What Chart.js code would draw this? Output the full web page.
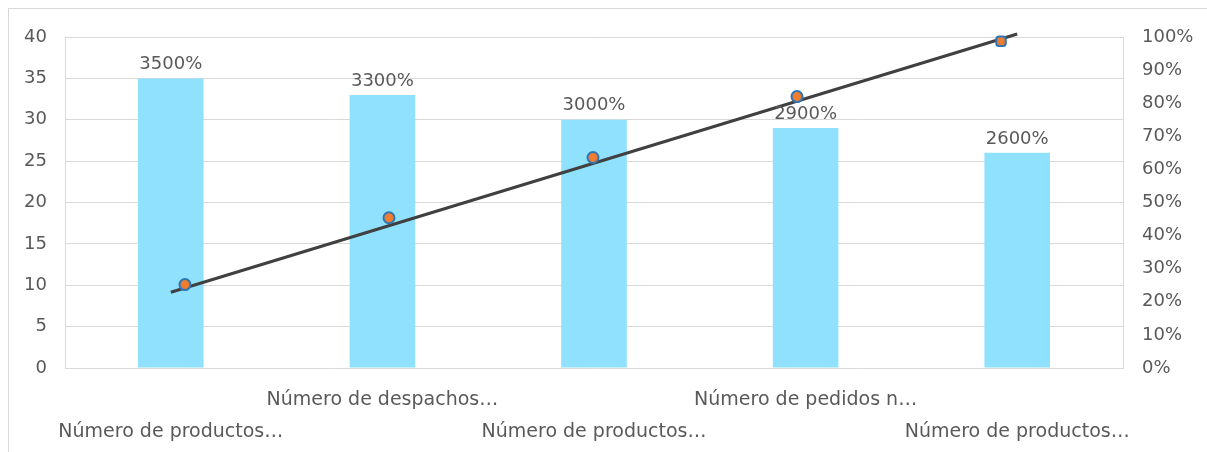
<!DOCTYPE html>
<html>
<head>
<meta charset="utf-8">
<script src="https://cdn.jsdelivr.net/npm/chart.js@4/dist/chart.umd.min.js"></script>
<style>
  html, body { margin: 0; padding: 0; background: #fff; }
  #wrap { position: absolute; left: 0; top: 0; width: 1207px; height: 452px; }
  #frame { position: absolute; left: 8px; top: 8px; width: 1210px; height: 460px; border: 1px solid #d9d9d9; }
</style>
</head>
<body>
<div id="frame"></div>
<div id="wrap"><canvas id="chart" width="1207" height="452"></canvas></div>
<script>
// Categorías (etiquetas truncadas como en el original)
var categories = [
  "Número de productos…",
  "Número de despachos…",
  "Número de productos…",
  "Número de pedidos n…",
  "Número de productos…"
];
// Valores de las barras (eje izquierdo)
var barValues = [35, 33, 30, 29, 26];
// Porcentaje acumulado (eje derecho)
var cumPct = [25.2, 45.4, 63.6, 82.0, 98.7];
// Línea de tendencia: extremos
var trendPct = [22.9, null, null, null, 100.9];
// Marcadores
var markerStyles = ["circle", "circle", "circle", "circle", "rectRounded"];

var textColor = "#595959";
var gridColor = "#d9d9d9";
var fontFamily = "'DejaVu Sans', sans-serif";

// Etiquetas encima de las barras
var barLabels = {
  id: "barLabels",
  afterDatasetsDraw: function(chart) {
    var ctx = chart.ctx;
    var meta = chart.getDatasetMeta(2);
    ctx.save();
    ctx.font = "18px " + fontFamily;
    ctx.fillStyle = textColor;
    ctx.textAlign = "center";
    ctx.textBaseline = "bottom";
    meta.data.forEach(function(bar, i) {
      ctx.fillText((barValues[i] * 100) + "%", bar.x, bar.y - 5);
    });
    ctx.restore();
  }
};

new Chart(document.getElementById("chart").getContext("2d"), {
  type: "bar",
  data: {
    labels: categories,
    datasets: [
      {
        type: "line",
        label: "Acumulado",
        data: cumPct.map(function(v, i) { return { x: i + 1, y: v }; }),
        xAxisID: "x2",
        yAxisID: "y2",
        showLine: false,
        pointStyle: markerStyles,
        pointRadius: 5.5,
        pointBackgroundColor: "#ed7d31",
        pointBorderColor: "#2e75b6",
        pointBorderWidth: 2,
        order: 0,
        clip: false
      },
      {
        type: "line",
        label: "Tendencia",
        data: trendPct,
        xAxisID: "x",
        yAxisID: "y2",
        spanGaps: true,
        borderColor: "#404040",
        borderWidth: 3,
        pointRadius: 0,
        order: 1,
        clip: false
      },
      {
        label: "Cantidad",
        data: barValues,
        backgroundColor: "#8fe1fe",
        barPercentage: 0.31,
        categoryPercentage: 1,
        grouped: false,
        xAxisID: "x",
        yAxisID: "y",
        order: 2
      }
    ]
  },
  options: {
    responsive: false,
    animation: false,
    layout: { padding: { top: 37, left: 0, right: 0, bottom: 0 } },
    plugins: { legend: { display: false }, tooltip: { enabled: false } },
    scales: {
      x: {
        type: "category",
        offset: true,
        grid: { display: false, drawTicks: false },
        border: { display: false },
        ticks: {
          autoSkip: false,
          maxRotation: 0,
          padding: 16,
          color: textColor,
          font: { family: fontFamily, size: 19, lineHeight: 1.7 },
          callback: function(value, index) {
            var lbl = categories[index];
            return index % 2 === 0 ? ["", lbl] : [lbl, ""];
          }
        },
        afterFit: function(scale) { scale.height = 84; }
      },
      x2: {
        type: "linear",
        display: false,
        offset: false,
        min: 0.412,
        max: 5.598
      },
      y: {
        position: "left",
        min: 0,
        max: 40,
        ticks: {
          stepSize: 5,
          padding: 18,
          color: textColor,
          font: { family: fontFamily, size: 18 }
        },
        grid: { color: gridColor, drawTicks: false },
        border: { display: true, color: gridColor },
        afterFit: function(scale) { scale.width = 65; }
      },
      y2: {
        position: "right",
        min: 0,
        max: 100,
        ticks: {
          stepSize: 10,
          padding: 19,
          color: textColor,
          font: { family: fontFamily, size: 18 },
          callback: function(v) { return v + "%"; }
        },
        grid: { display: false, drawTicks: false },
        border: { display: true, color: gridColor },
        afterFit: function(scale) { scale.width = 84; }
      }
    }
  },
  plugins: [barLabels]
});
</script>
</body>
</html>
